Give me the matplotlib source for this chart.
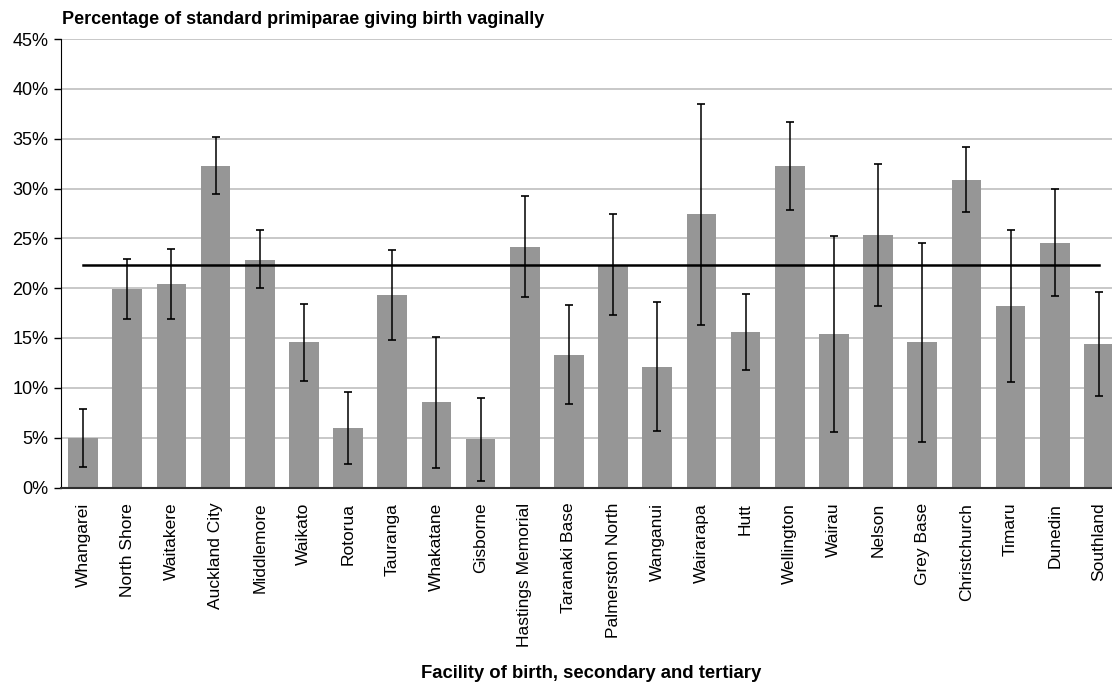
# Vaginal birth rates for standard primiparae by facility
import numpy as np
import matplotlib
matplotlib.use('Agg')
import matplotlib.pyplot as plt
from matplotlib.ticker import PercentFormatter

# Data
facilities = ['Whangarei', 'North Shore', 'Waitakere', 'Auckland City', 'Middlemore',
              'Waikato', 'Rotorua', 'Tauranga', 'Whakatane', 'Gisborne',
              'Hastings Memorial', 'Taranaki Base', 'Palmerston North', 'Wanganui',
              'Wairarapa', 'Hutt', 'Wellington', 'Wairau', 'Nelson', 'Grey Base',
              'Christchurch', 'Timaru', 'Dunedin', 'Southland']
rate = [5.0, 19.9, 20.4, 32.3, 22.8, 14.6, 6.0, 19.3, 8.6, 4.9,
        24.1, 13.3, 22.2, 12.1, 27.4, 15.6, 32.3, 15.4, 25.3, 14.6,
        30.9, 18.2, 24.5, 14.4]
ci_low = [2.1, 16.9, 16.9, 29.4, 20.0, 10.7, 2.4, 14.8, 2.0, 0.7,
          19.1, 8.4, 17.3, 5.7, 16.3, 11.8, 27.8, 5.6, 18.2, 4.6,
          27.6, 10.6, 19.2, 9.2]
ci_high = [7.9, 22.9, 23.9, 35.2, 25.8, 18.4, 9.6, 23.8, 15.1, 9.0,
           29.2, 18.3, 27.4, 18.6, 38.5, 19.4, 36.7, 25.2, 32.5, 24.5,
           34.2, 25.8, 29.9, 19.6]
national_avg = 22.3

plt.rcParams['font.family'] = ['Liberation Sans', 'DejaVu Sans']

x = np.arange(len(facilities))
rate = np.array(rate)
yerr = [rate - np.array(ci_low), np.array(ci_high) - rate]

fig = plt.figure(figsize=(11.12, 6.86), dpi=100)
ax = fig.add_axes([61/1112, 1 - 487.5/686, 1060/1112, 448.5/686])

ax.bar(x, rate, width=0.67, color='#969696', zorder=2)
ax.errorbar(x, rate, yerr=yerr, fmt='none', ecolor='black', elinewidth=1.1,
            capsize=2.6, capthick=1.2, zorder=3)
ax.plot(x, [national_avg] * len(x), color='black', linewidth=1.8, zorder=4)

ax.set_xlim(-0.5, len(facilities) - 0.5)
ax.set_ylim(0, 45)
ax.set_yticks(np.arange(0, 46, 5))
ax.yaxis.set_major_formatter(PercentFormatter(decimals=0))
ax.grid(axis='y', color='#c4c4c4', linewidth=1.3, zorder=0)
ax.set_axisbelow(True)

ax.set_xticks(x)
ax.set_xticklabels(facilities, rotation=90)
ax.tick_params(axis='x', length=0, pad=11, labelsize=12.5)
ax.tick_params(axis='y', length=5, width=1, pad=4, labelsize=13)

for side in ['top', 'right']:
    ax.spines[side].set_visible(False)
ax.spines['left'].set_color('black')
ax.spines['bottom'].set_color('#303030')
ax.spines['bottom'].set_linewidth(1.5)

fig.text(62/1112, 1 - 20/686, 'Percentage of standard primiparae giving birth vaginally',
         fontsize=13, fontweight='bold', va='center', ha='left')
fig.text(591/1112, 1 - 673/686, 'Facility of birth, secondary and tertiary',
         fontsize=13.3, fontweight='bold', va='center', ha='center')

fig.savefig('out.png', dpi=100)
